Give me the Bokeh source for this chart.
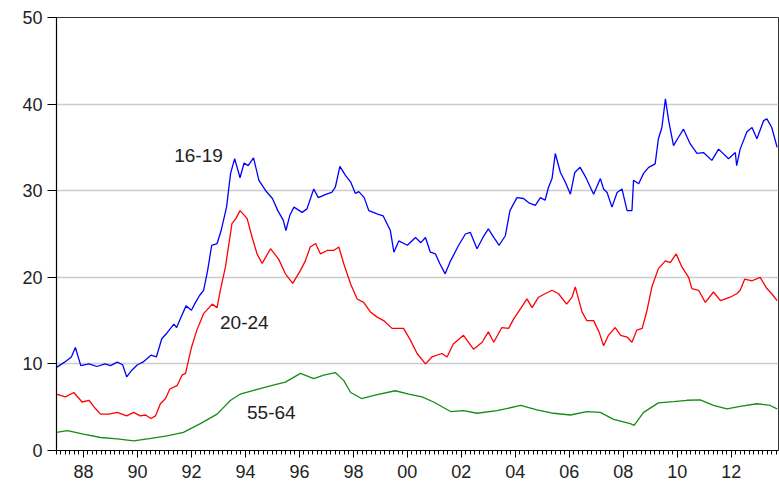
from bokeh.plotting import figure
from bokeh.models import FixedTicker, Range1d, Label
from bokeh.embed import file_html
from bokeh.resources import INLINE

# ---- data (decimal years, unemployment rate %) ----
teen_years = [1987.0, 1987.3, 1987.55, 1987.7, 1987.9, 1988.2, 1988.5, 1988.8, 1989.0, 1989.25,
              1989.45, 1989.6, 1989.8, 1990.0, 1990.2, 1990.35, 1990.5, 1990.7, 1990.9, 1991.1,
              1991.35, 1991.45, 1991.6, 1991.8, 1992.0, 1992.15, 1992.3, 1992.45, 1992.6, 1992.75,
              1992.95, 1993.1, 1993.3, 1993.45, 1993.6, 1993.8, 1993.95, 1994.1, 1994.3, 1994.5,
              1994.75, 1995.0, 1995.2, 1995.4, 1995.5, 1995.65, 1995.8, 1996.1, 1996.28, 1996.53,
              1996.7, 1997.0, 1997.2, 1997.33, 1997.5, 1997.7, 1997.9, 1998.07, 1998.2, 1998.4,
              1998.57, 1998.9, 1999.1, 1999.37, 1999.5, 1999.68, 2000.0, 2000.3, 2000.5, 2000.67,
              2000.85, 2001.04, 2001.2, 2001.4, 2001.6, 2001.9, 2002.15, 2002.33, 2002.58, 2002.8,
              2003.0, 2003.2, 2003.4, 2003.63, 2003.8, 2004.06, 2004.3, 2004.5, 2004.74, 2004.93,
              2005.1, 2005.23, 2005.36, 2005.48, 2005.67, 2005.85, 2006.04, 2006.2, 2006.4, 2006.6,
              2006.9, 2007.15, 2007.27, 2007.4, 2007.58, 2007.77, 2007.95, 2008.14, 2008.32, 2008.38,
              2008.57, 2008.75, 2008.94, 2009.18, 2009.3, 2009.43, 2009.56, 2009.68, 2009.86, 2010.05,
              2010.23, 2010.48, 2010.73, 2010.97, 2011.28, 2011.53, 2011.9, 2012.15, 2012.2, 2012.33,
              2012.58, 2012.77, 2012.95, 2013.2, 2013.32, 2013.5, 2013.7]
teen_vals = [9.6, 10.2, 10.8, 11.9, 9.8, 10.0, 9.7, 10.0, 9.8, 10.2,
             9.9, 8.5, 9.3, 9.9, 10.2, 10.6, 11.0, 10.8, 12.9, 13.6,
             14.6, 14.2, 15.3, 16.7, 16.2, 17.1, 17.9, 18.5, 20.8, 23.7,
             23.9, 25.4, 28.1, 32.0, 33.7, 31.5, 33.2, 32.9, 33.8, 31.2,
             30.0, 29.1, 27.7, 26.6, 25.4, 27.2, 28.1, 27.5, 27.9, 30.2,
             29.2, 29.6, 29.8, 30.4, 32.8, 31.8, 31.0, 29.7, 29.9, 29.2,
             27.7, 27.3, 27.1, 25.4, 22.9, 24.2, 23.7, 24.6, 24.0, 24.6,
             22.9, 22.7, 21.6, 20.4, 21.9, 23.7, 25.0, 25.2, 23.3, 24.6,
             25.6, 24.6, 23.7, 24.8, 27.7, 29.2, 29.1, 28.6, 28.3, 29.2,
             28.9, 30.4, 31.4, 34.3, 32.1, 31.0, 29.6, 32.1, 32.7, 31.6,
             29.6, 31.4, 30.2, 29.8, 28.1, 29.8, 30.2, 27.7, 27.7, 31.2,
             30.8, 32.0, 32.7, 33.1, 36.0, 37.3, 40.6, 38.1, 35.2, 36.2,
             37.1, 35.4, 34.3, 34.4, 33.5, 34.8, 33.7, 34.4, 32.9, 34.8,
             36.8, 37.3, 36.0, 38.1, 38.3, 37.3, 35.0]

young_years = [1987.0, 1987.33, 1987.64, 1987.95, 1988.2, 1988.4, 1988.63, 1988.94, 1989.25, 1989.6,
               1989.86, 1990.1, 1990.3, 1990.5, 1990.67, 1990.85, 1991.04, 1991.2, 1991.47, 1991.65,
               1991.78, 1992.0, 1992.2, 1992.45, 1992.77, 1992.95, 1993.07, 1993.26, 1993.5, 1993.65,
               1993.8, 1994.06, 1994.25, 1994.43, 1994.62, 1994.93, 1995.23, 1995.48, 1995.75, 1996.04,
               1996.22, 1996.4, 1996.6, 1996.78, 1997.03, 1997.27, 1997.46, 1997.64, 1997.9, 1998.14,
               1998.38, 1998.63, 1998.88, 1999.12, 1999.43, 1999.86, 2000.1, 2000.36, 2000.67, 2000.91,
               2001.28, 2001.47, 2001.7, 2002.08, 2002.45, 2002.77, 2003.0, 2003.2, 2003.5, 2003.75,
               2003.94, 2004.2, 2004.43, 2004.62, 2004.86, 2005.1, 2005.36, 2005.6, 2005.9, 2006.1,
               2006.22, 2006.47, 2006.65, 2006.9, 2007.1, 2007.27, 2007.45, 2007.7, 2007.9, 2008.14,
               2008.32, 2008.5, 2008.7, 2008.88, 2009.06, 2009.3, 2009.56, 2009.74, 2009.96, 2010.17,
               2010.42, 2010.54, 2010.79, 2011.04, 2011.34, 2011.6, 2011.96, 2012.2, 2012.33, 2012.5,
               2012.77, 2013.07, 2013.32, 2013.5, 2013.7]
young_vals = [6.5, 6.2, 6.7, 5.6, 5.8, 5.0, 4.2, 4.2, 4.4, 4.0,
              4.4, 4.0, 4.1, 3.7, 4.0, 5.4, 6.0, 7.1, 7.5, 8.7,
              8.9, 11.9, 13.9, 15.8, 16.9, 16.5, 18.5, 21.2, 26.2, 26.8,
              27.7, 26.8, 24.6, 22.7, 21.6, 23.3, 22.1, 20.4, 19.3, 20.8,
              21.9, 23.5, 23.9, 22.7, 23.1, 23.1, 23.5, 21.6, 19.2, 17.5,
              17.1, 16.0, 15.4, 15.0, 14.1, 14.1, 12.8, 11.2, 10.0, 10.8,
              11.2, 10.8, 12.3, 13.3, 11.7, 12.5, 13.7, 12.5, 14.2, 14.1,
              15.2, 16.4, 17.5, 16.5, 17.7, 18.1, 18.5, 18.1, 16.9, 17.7,
              18.9, 16.0, 15.0, 15.0, 13.7, 12.1, 13.3, 14.2, 13.3, 13.1,
              12.5, 13.9, 14.1, 16.2, 18.9, 21.0, 21.9, 21.7, 22.7, 21.2,
              20.0, 18.7, 18.5, 17.1, 18.3, 17.3, 17.7, 18.1, 18.5, 19.8,
              19.6, 20.0, 18.7, 18.1, 17.3]

older_years = [1987.0, 1987.4, 1988.0, 1988.63, 1989.25, 1989.86, 1990.5, 1991.1, 1991.7, 1992.33,
               1992.95, 1993.45, 1993.8, 1994.37, 1995.1, 1995.48, 1996.04, 1996.53, 1996.9, 1997.33,
               1997.64, 1997.9, 1998.3, 1998.8, 1999.55, 2000.05, 2000.54, 2000.97, 2001.6, 2002.08,
               2002.58, 2003.32, 2004.2, 2004.8, 2005.42, 2006.04, 2006.65, 2007.15, 2007.64, 2008.26,
               2008.4, 2008.75, 2009.3, 2009.86, 2010.36, 2010.85, 2011.34, 2011.84, 2012.33, 2012.95,
               2013.44, 2013.7]
older_vals = [2.1, 2.3, 1.9, 1.5, 1.35, 1.1, 1.4, 1.7, 2.1, 3.1,
              4.2, 5.8, 6.5, 7.0, 7.6, 7.9, 8.9, 8.3, 8.7, 9.0,
              8.1, 6.7, 6.0, 6.4, 6.9, 6.5, 6.2, 5.6, 4.5, 4.6,
              4.3, 4.6, 5.2, 4.7, 4.3, 4.1, 4.5, 4.4, 3.6, 3.1,
              2.9, 4.4, 5.5, 5.65, 5.8, 5.85, 5.2, 4.8, 5.1, 5.4,
              5.2, 4.8]

series_names = ["16-19", "20-24", "55-64"]
label_years = [1992.26, 1993.96, 1994.96]
label_vals = [34.1, 14.8, 4.4]

x_tick_years = list(range(1988, 2013, 2))
x_tick_labels = ["88", "90", "92", "94", "96", "98", "00", "02", "04", "06", "08", "10", "12"]
y_ticks = [0, 10, 20, 30, 40, 50]

FONT = "Liberation Sans"

p = figure(width=779, height=485, output_backend="svg", toolbar_location=None,
           x_range=Range1d(1987.0, 2013.75), y_range=Range1d(0, 50),
           min_border_left=56, min_border_right=1, min_border_top=17, min_border_bottom=35)
p.background_fill_color = "white"
p.border_fill_color = "white"
p.outline_line_color = "#333333"
p.outline_line_width = 1

p.line(teen_years, teen_vals, line_color="#0000ff", line_width=1.3)
p.line(young_years, young_vals, line_color="#ff0000", line_width=1.3)
p.line(older_years, older_vals, line_color="#158c15", line_width=1.3)

for name, lx, ly in zip(series_names, label_years, label_vals):
    p.add_layout(Label(x=lx, y=ly, text=name, text_align="center", text_baseline="middle",
                       text_font=FONT, text_font_size="19px", text_color="#222222"))

minor = [1987 + k / 6 for k in range(0, 162)]
p.xaxis.ticker = FixedTicker(ticks=x_tick_years, minor_ticks=minor)
p.xaxis.major_label_overrides = {y: lab for y, lab in zip(x_tick_years, x_tick_labels)}
p.yaxis.ticker = FixedTicker(ticks=y_ticks, minor_ticks=[])

for ax in (p.xaxis[0], p.yaxis[0]):
    ax.axis_line_color = "black"
    ax.axis_line_width = 1.2
    ax.major_tick_line_color = "black"
    ax.minor_tick_line_color = "black"
    ax.major_tick_in = 0
    ax.minor_tick_in = 0
    ax.major_label_text_font = FONT
    ax.major_label_text_color = "#222222"

p.xaxis.major_tick_out = 7
p.xaxis.minor_tick_out = 4
p.xaxis.major_label_standoff = 7
p.xaxis.major_label_text_font_size = "18px"
p.yaxis.major_tick_out = 9
p.yaxis.major_label_standoff = 5
p.yaxis.major_label_text_font_size = "18px"

p.xgrid.visible = False
p.ygrid.ticker = FixedTicker(ticks=[10, 20, 30, 40])
p.ygrid.grid_line_color = "#cccccc"
p.ygrid.grid_line_width = 1.5

open("out.html", "w").write(file_html(p, INLINE))
